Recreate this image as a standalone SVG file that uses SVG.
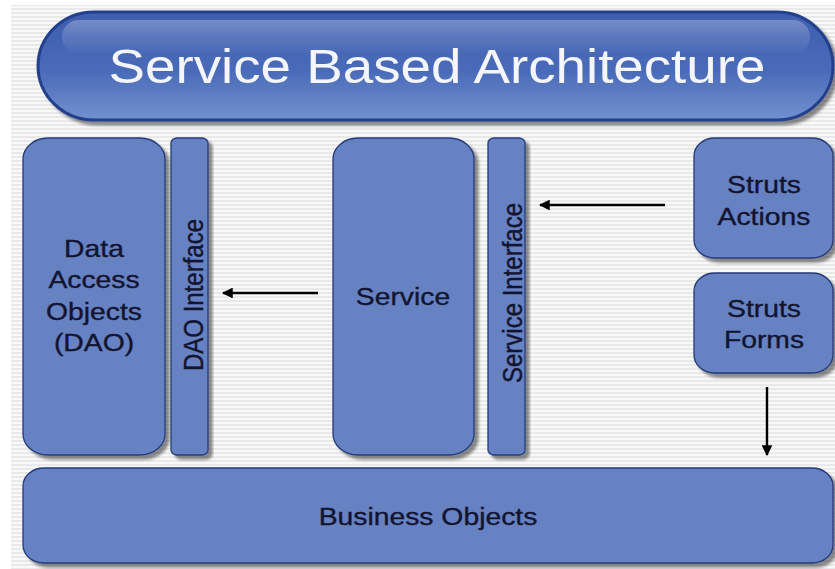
<svg xmlns="http://www.w3.org/2000/svg" width="835" height="569" viewBox="0 0 835 569">
<style>
.node{fill:#6682c2;stroke:#243a78;stroke-width:1.3;filter:url(#sh)}
.lbl{font-family:"Liberation Sans",Arial,sans-serif;font-size:24px;fill:#121430;stroke:#121430;stroke-width:0.35;text-anchor:middle}
.title{font-family:"Liberation Sans",Arial,sans-serif;font-size:48px;fill:#f4f6fb;text-anchor:middle}
.arr{stroke:#000;stroke-width:2.4;fill:none;marker-end:url(#ah)}
</style>
<defs>
<pattern id="stripes" width="8" height="4" patternUnits="userSpaceOnUse">
<rect width="8" height="4" fill="#f8f8f8"/>
<rect width="8" height="2" fill="#e9e9e9"/>
</pattern>
<filter id="sh" x="-10%" y="-10%" width="125%" height="125%">
<feGaussianBlur in="SourceAlpha" stdDeviation="1.5"/>
<feOffset dx="4" dy="4" result="b"/>
<feComponentTransfer><feFuncA type="linear" slope="0.45"/></feComponentTransfer>
<feMerge><feMergeNode/><feMergeNode in="SourceGraphic"/></feMerge>
</filter>
<linearGradient id="pill" x1="0" y1="0" x2="0" y2="1">
<stop offset="0" stop-color="#3e5eae"/>
<stop offset="0.55" stop-color="#4a6bb9"/>
<stop offset="1" stop-color="#7391cf"/>
</linearGradient>
<linearGradient id="gloss" x1="0" y1="0" x2="0" y2="1">
<stop offset="0" stop-color="#ffffff" stop-opacity="0.28"/>
<stop offset="1" stop-color="#ffffff" stop-opacity="0"/>
</linearGradient>
<marker id="ah" viewBox="0 0 10 10" refX="9" refY="5" markerWidth="5" markerHeight="4.5" orient="auto" markerUnits="strokeWidth">
<path d="M0,0 L10,5 L0,10 z" fill="#000"/>
</marker>
</defs>
<rect width="835" height="569" fill="#ffffff"/>
<rect x="11" y="5" width="824" height="564" fill="url(#stripes)"/>

<g id="title">
<rect x="38" y="12" width="795" height="108" rx="56" ry="54" fill="url(#pill)" stroke="#233f8c" stroke-width="3" filter="url(#sh)"/>
<rect x="62" y="20" width="748" height="34" rx="17" fill="url(#gloss)"/>
<text class="title" transform="translate(437,83) scale(1.14,1)">Service Based Architecture</text>
</g>

<g id="dao">
<rect class="node" x="23" y="138" width="142" height="317" rx="25" ry="21"/>
<text class="lbl" transform="translate(94,257) scale(1.18,1)">Data</text>
<text class="lbl" transform="translate(94,288) scale(1.18,1)">Access</text>
<text class="lbl" transform="translate(94,320) scale(1.18,1)">Objects</text>
<text class="lbl" transform="translate(94,351) scale(1.18,1)">(DAO)</text>
</g>

<g id="dao-interface">
<rect class="node" x="171" y="138" width="37" height="317" rx="6" ry="5"/>
<text class="lbl" transform="translate(203,295) scale(1.18,1) rotate(-90)">DAO Interface</text>
</g>

<g id="service">
<rect class="node" x="333" y="138" width="141" height="317" rx="25" ry="21"/>
<text class="lbl" transform="translate(403,305) scale(1.18,1)">Service</text>
</g>

<g id="service-interface">
<rect class="node" x="488" y="138" width="37" height="317" rx="6" ry="5"/>
<text class="lbl" transform="translate(522,293) scale(1.18,1) rotate(-90)">Service Interface</text>
</g>

<g id="struts-actions">
<rect class="node" x="694" y="138" width="139" height="120" rx="21" ry="18"/>
<text class="lbl" transform="translate(764,193) scale(1.18,1)">Struts</text>
<text class="lbl" transform="translate(764,225) scale(1.18,1)">Actions</text>
</g>

<g id="struts-forms">
<rect class="node" x="694" y="273" width="139" height="100" rx="21" ry="18"/>
<text class="lbl" transform="translate(764,317) scale(1.18,1)">Struts</text>
<text class="lbl" transform="translate(764,348) scale(1.18,1)">Forms</text>
</g>

<g id="business-objects">
<rect class="node" x="23" y="468" width="810" height="95" rx="21" ry="18"/>
<text class="lbl" transform="translate(428,525) scale(1.18,1)">Business Objects</text>
</g>

<g id="connectors">
<line class="arr" x1="318" y1="293" x2="223" y2="293"/>
<line class="arr" x1="665" y1="205" x2="540" y2="205"/>
<line class="arr" x1="767" y1="387" x2="767" y2="455"/>
</g>
</svg>
